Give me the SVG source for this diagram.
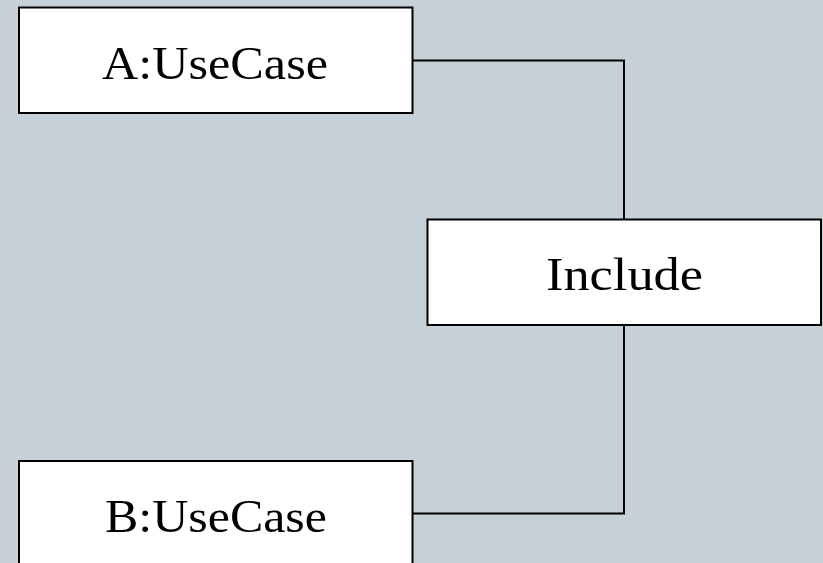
<svg xmlns="http://www.w3.org/2000/svg" width="823" height="563" viewBox="0 0 823 563">
<style>
.box{fill:#ffffff;stroke:#000000;stroke-width:2}
.lbl{font-family:"Liberation Serif","Times New Roman",serif;font-size:47px;fill:#000000;text-anchor:middle}
.conn{fill:none;stroke:#000000;stroke-width:2}
</style>
<rect x="0" y="0" width="823" height="563" fill="#c6d1d7"/>
<g id="connectors">
<polyline class="conn" points="413,60.5 624,60.5 624,219"/>
<polyline class="conn" points="624,325 624,513.5 413,513.5"/>
</g>
<g id="A">
<rect class="box" x="19" y="7.5" width="393.5" height="105.5"/>
<text class="lbl" x="215" y="79" textLength="226" lengthAdjust="spacingAndGlyphs">A:UseCase</text>
</g>
<g id="Include">
<rect class="box" x="427.5" y="219.5" width="393.5" height="105.5"/>
<text class="lbl" x="624.5" y="290" textLength="157" lengthAdjust="spacingAndGlyphs">Include</text>
</g>
<g id="B">
<rect class="box" x="19" y="461" width="393.5" height="105.5"/>
<text class="lbl" x="216" y="532" textLength="222" lengthAdjust="spacingAndGlyphs">B:UseCase</text>
</g>
</svg>
